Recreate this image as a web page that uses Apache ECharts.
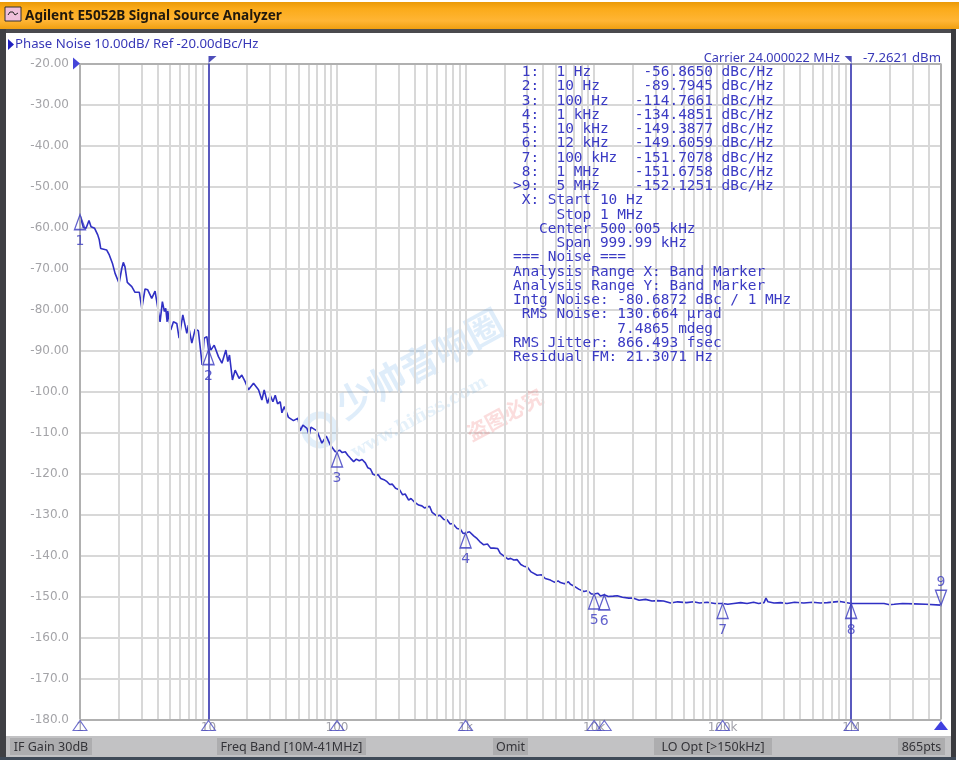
<!DOCTYPE html>
<html><head><meta charset="utf-8">
<style>html,body{margin:0;padding:0;background:#fff}#c{width:960px;height:761px}</style>
<script src="https://cdn.jsdelivr.net/npm/echarts@6/dist/echarts.min.js"></script></head>
<body><div id="c"></div>
<script>
// log10(frequency in Hz) of the traced points
const logFreq = [0,.026,.047,.070,.086,.114,.138,.150,.161,.174,.208,.228,.252,.273,.304,.325,.337,.350,.368,.403,.428,.462,.467,.481,.493,.506,.527,.558,.584,.610,.623,.641,.657,.667,.678,.683,.706,.727,.753,.771,.800,.831,.843,.870,.896,.921,.942,.950,.966,.987,1.0,1.004,1.018,1.044,1.077,1.104,1.135,1.150,1.163,1.186,1.207,1.238,1.259,1.285,1.311,1.350,1.389,1.415,1.433,1.459,1.480,1.501,1.519,1.537,1.558,1.571,1.589,1.622,1.661,1.696,1.713,1.734,1.766,1.783,1.797,1.843,1.882,1.916,1.947,1.986,
2.0,2.02,2.04,2.064,2.085,2.105,2.129,2.15,2.173,2.195,2.22,2.24,2.26,2.28,2.298,2.32,2.34,2.365,2.389,2.41,2.43,2.455,2.47,2.487,2.51,2.53,2.557,2.575,2.6,2.635,2.66,2.68,2.70,2.72,2.74,2.778,2.80,2.83,2.856,2.88,2.90,2.934,2.96,2.98,
3.0,3.03,3.063,3.09,3.11,3.141,3.17,3.195,3.219,3.25,3.27,3.297,3.33,3.35,3.375,3.40,3.43,3.453,3.48,3.51,3.557,3.59,3.62,3.66,3.69,3.72,3.738,3.77,3.80,3.816,3.85,3.88,3.92,3.95,3.98,
4.0,4.03,4.05,4.079,4.11,4.15,4.18,4.22,4.27,4.307,4.35,4.4,4.45,4.491,4.54,4.595,4.65,4.72,4.774,4.82,4.88,4.94,
5.0,5.04,5.086,5.14,5.19,5.241,5.28,5.322,5.337,5.353,5.4,5.452,5.5,5.56,5.631,5.7,5.76,5.815,5.914,
6.0,6.1,6.256,6.3,6.334,6.4,6.49,6.58,6.699];
// phase noise, dBc/Hz
const noise = [-57,-60,-60.2,-58.3,-59.8,-60.2,-61.8,-63,-65.1,-64.7,-65.5,-66.7,-68.7,-71.2,-73.6,-70,-68.5,-69.6,-73.4,-74.4,-75.8,-75.8,-75.5,-79.7,-79.7,-75,-75.2,-77.3,-75.5,-80.5,-83,-78.1,-80.5,-79.7,-83,-80.4,-85,-83,-83.4,-87,-81.3,-85.8,-83.8,-88.2,-84.8,-85.2,-91.1,-93.5,-87,-86.6,-89.8,-87.9,-89.9,-88.7,-91.5,-93.1,-89.9,-92.7,-91.1,-97.2,-94.8,-96.8,-96,-97.6,-99.6,-98,-99.6,-102.1,-99.6,-102.9,-100.9,-102.5,-100.9,-103,-102.5,-105.2,-103.7,-106.3,-107.1,-106.5,-109.6,-108.2,-109,-110.6,-108.7,-109.6,-112.6,-110.9,-113,-114.7,
-114.8,-114.3,-114.9,-114.7,-115.6,-116.3,-117.1,-116.5,-116.9,-116.6,-117.4,-118.6,-118.9,-120.2,-120.4,-120.3,-121.2,-121.5,-122,-122.7,-122.6,-123.6,-123.2,-124,-125.2,-125,-126.5,-126.1,-126.9,-127.7,-127.9,-128.4,-128.2,-128,-129.5,-130.4,-130.2,-131.2,-131.3,-132.3,-132.2,-133.4,-133.6,-134.6,
-134.5,-134.2,-135.2,-135.9,-136.6,-137.4,-137.2,-138.2,-138.2,-138.3,-139.5,-140.1,-140.9,-140.7,-141.1,-141,-142.2,-142.6,-142.8,-144,-144.8,-144.7,-145.6,-146,-146.5,-146.2,-146.6,-146.9,-146.4,-147,-147.6,-148.2,-148.8,-148.6,-149.4,
-149.4,-149.2,-149.9,-149.6,-150,-149.9,-149.8,-150.2,-150.4,-150.4,-150.9,-150.7,-151.1,-151,-151.1,-151.6,-151.3,-151.5,-151.3,-151.6,-151.4,-151.7,
-151.7,-151.9,-151.7,-151.5,-151.7,-151.4,-151.7,-151.5,-150.4,-151.3,-151.6,-151.5,-151.7,-151.4,-151.6,-151.4,-151.6,-151.5,-151.2,
-151.7,-151.7,-151.7,-152,-151.9,-151.7,-151.8,-151.9,-152.1];
const markerFreq = [1,10,100,1000,10000,12000,100000,1000000,5000000];
const markerVal = [-56.865,-89.7945,-114.7661,-134.4851,-149.3877,-149.6059,-151.7078,-151.6758,-152.1251];
const markerId = ['1','2','3','4','5','6','7','8','9'];
const gridFreq = [2,3,4,5,6,7,8,9,10,20,30,40,50,60,70,80,90,100,200,300,400,500,600,700,800,900,1000,2000,3000,4000,5000,6000,7000,8000,9000,10000,20000,30000,40000,50000,60000,70000,80000,90000,100000,200000,300000,400000,500000,600000,700000,800000,900000,1000000,2000000,3000000,4000000];
const bandLines = [10,1000000];
const xTicks = {1:'1',10:'10',100:'100',1000:'1k',10000:'10k',100000:'100k',1000000:'1M'};
const titleText = 'Agilent E5052B Signal Source Analyzer';
const headLeft = 'Phase Noise 10.00dB/ Ref -20.00dBc/Hz';
const headCarrier = 'Carrier 24.000022 MHz';
const headPower = '-7.2621 dBm';
const tableLines = [
' 1:  1 Hz      -56.8650 dBc/Hz',
' 2:  10 Hz     -89.7945 dBc/Hz',
' 3:  100 Hz   -114.7661 dBc/Hz',
' 4:  1 kHz    -134.4851 dBc/Hz',
' 5:  10 kHz   -149.3877 dBc/Hz',
' 6:  12 kHz   -149.6059 dBc/Hz',
' 7:  100 kHz  -151.7078 dBc/Hz',
' 8:  1 MHz    -151.6758 dBc/Hz',
'>9:  5 MHz    -152.1251 dBc/Hz',
' X: Start 10 Hz',
'     Stop 1 MHz',
'   Center 500.005 kHz',
'     Span 999.99 kHz',
'=== Noise ===',
'Analysis Range X: Band Marker',
'Analysis Range Y: Band Marker',
'Intg Noise: -80.6872 dBc / 1 MHz',
' RMS Noise: 130.664 \u00b5rad',
'            7.4865 mdeg',
'RMS Jitter: 866.493 fsec',
'Residual FM: 21.3071 Hz'];
const statusItems = [['IF Gain 30dB',10,82],['Freq Band [10M-41MHz]',217,149],['Omit',493,35],['LO Opt [>150kHz]',654,118],['865pts',898,47]];

const BLUE='#3838b8', UI='Noto Sans, DejaVu Sans, sans-serif';
const g=[];
const rect=(x,y,w,h,fill,z,extra)=>g.push(Object.assign({type:'rect',shape:{x,y,width:w,height:h},style:{fill},z:z,silent:true},extra||{}));
const text=(x,y,t,fill,font,z,extra)=>g.push({type:'text',x,y,z:z,silent:true,style:Object.assign({text:t,fill,font,textVerticalAlign:'middle'},extra||{})});
rect(0,0,960,761,'#ffffff',-20);
rect(0,2,959,27,{type:'linear',x:0,y:0,x2:0,y2:1,colorStops:[{offset:0,color:'#ea9a08'},{offset:.25,color:'#fbab1a'},{offset:.7,color:'#ffb535'},{offset:1,color:'#f09f10'}]},-19);
rect(0,29,956,4,'#4a4a4e',-19);
rect(0,29,6,731,'#3f4044',-19);
rect(951,29,5,731,'#3a3b3f',-19);
rect(6,736,945,22,'#c2c2c4',-19);
rect(0,757,956,3,'#3f4a58',-19);
statusItems.forEach(([t,x,w])=>{rect(x,738,w,17,'#adadaf',-18);text(x+w/2,747,t,'#333338','12.5px '+UI,-17,{textAlign:'center'});});
rect(5,7,16,14,'#f0c0dc',-17,{style:{fill:'#f0c0dc',stroke:'#333',lineWidth:1}});
g.push({type:'polyline',silent:true,z:-16,shape:{points:[[8,15],[10,12],[13,12],[15,15],[18,13]]},style:{stroke:'#222',lineWidth:1,fill:null}});
text(25,16,titleText,'#20180c','bold 13.6px '+UI,-17);
g.push({type:'polygon',silent:true,z:3,shape:{points:[[8,39],[14,44.5],[8,50]]},style:{fill:'#2020c0'}});
text(15,44.5,headLeft,BLUE,'13.2px '+UI,3);
text(840,58,headCarrier,BLUE,'12.7px '+UI,3,{textAlign:'right'});
text(941,58,headPower,BLUE,'13.2px '+UI,3,{textAlign:'right'});
tableLines.forEach((l,i)=>text(513,72.4+i*14.25,l,'#3a3ac4','14.45px "DejaVu Sans Mono", monospace',6));
// faint watermark
g.push({type:'circle',silent:true,z:1,shape:{cx:320,cy:430,r:15},style:{fill:null,stroke:'rgba(110,175,230,.2)',lineWidth:7}});
[['\u5c11\u5e05\u97f3\u54cd\u5708',347,424,'rgba(110,175,230,.22)','bold 37px "Noto Sans CJK SC"'],
 ['www.hifiss.com',357,462,'rgba(110,175,230,.18)','bold 18px "DejaVu Serif"'],
 ['\u76d7\u56fe\u5fc5\u7a76',473,444,'rgba(235,100,100,.22)','bold 21px "Noto Sans CJK SC"']].forEach(([t,x,y,c,f])=>
  g.push({type:'text',x,y,rotation:.5,z:1,silent:true,style:{text:t,fill:c,font:f,textVerticalAlign:'bottom'}}));

const trace=logFreq.map((d,i)=>[Math.pow(10,d),noise[i]]);
const axisPts=markerFreq.map(f=>[f,-180]);
const hollow={color:'rgba(255,255,255,0)',borderColor:'#3a3ac0',borderWidth:1.4};
const option={
 animation:false,
 graphic:{elements:g},
 grid:{left:80,right:19,top:63.5,bottom:41.5,containLabel:false},
 xAxis:{type:'log',logBase:10,min:1,max:5000000,
   axisLine:{show:false},axisTick:{show:false},splitLine:{show:false},minorSplitLine:{show:false},
   axisLabel:{show:true,margin:2,showMaxLabel:false,color:'#a0a0a8',fontSize:12,fontFamily:'DejaVu Sans',formatter:v=>xTicks[Math.round(v)]||''}},
 yAxis:{type:'value',min:-180,max:-20,interval:10,
   axisLine:{show:false},axisTick:{show:false},
   splitLine:{lineStyle:{color:'#d8d8d8',width:2}},
   axisLabel:{margin:11,fontSize:12,fontFamily:'DejaVu Sans',color:v=>v===-20?'#4a4ac0':'#a4a4a8',formatter:v=>v>-100?v.toFixed(2):v.toFixed(1)}},
 series:[
  {type:'line',z:1,silent:true,data:[],symbol:'none',
   markLine:{silent:true,symbol:'none',animation:false,label:{show:false},lineStyle:{type:'solid',color:'#d8d8d8',width:2},
     data:gridFreq.map(f=>({xAxis:f}))}},
  {type:'line',z:2,silent:true,data:[],symbol:'none',
   markLine:{silent:true,symbol:'none',animation:false,label:{show:false},lineStyle:{type:'solid',color:'#b0b0b0',width:2},
     data:[{xAxis:1},{xAxis:5000000},{yAxis:-20},{yAxis:-180}]}},
  {type:'line',z:3,silent:true,data:[],symbol:'none',
   markLine:{silent:true,symbol:'none',animation:false,label:{show:false},lineStyle:{type:'solid',color:'#3a3ab8',width:1.6},
     data:bandLines.map(f=>({xAxis:f}))}},
  {type:'line',z:4,silent:true,data:trace,symbol:'none',lineStyle:{color:'#3030c4',width:1.6},clip:false},
  {type:'scatter',z:5,silent:true,clip:false,symbol:'triangle',symbolSize:[11,15],symbolOffset:[0,7.5],
   itemStyle:hollow,
   label:{show:true,position:'bottom',distance:4,color:'#3a3ac0',fontSize:14,fontFamily:'DejaVu Sans',formatter:p=>markerId[p.dataIndex]},
   data:markerFreq.slice(0,8).map((f,i)=>[f,markerVal[i]])},
  {type:'scatter',z:5,silent:true,clip:false,symbol:'triangle',symbolRotate:180,symbolSize:[11,15],symbolOffset:[0,-7.5],
   itemStyle:hollow,
   label:{show:true,position:'top',distance:0,color:'#3a3ac0',fontSize:14,fontFamily:'DejaVu Sans',formatter:()=>markerId[8]},
   data:[[markerFreq[8],markerVal[8]]]},
  {type:'scatter',z:5,silent:true,clip:false,symbol:'triangle',symbolSize:[14,10],symbolOffset:[0,6],
   itemStyle:{color:'rgba(255,255,255,0)',borderColor:'#4a4ac0',borderWidth:1},
   data:axisPts.slice(0,8)},
  {type:'scatter',z:5,silent:true,clip:false,symbol:'triangle',symbolSize:[14,9],symbolOffset:[0,6],
   itemStyle:{color:'#1010d8'},data:axisPts.slice(8)},
  {type:'scatter',z:5,silent:true,clip:false,symbol:'path://M0 0L8 0L0 7Z',symbolSize:[8,7],symbolOffset:[4,-4],
   itemStyle:{color:'#2020a8'},data:[[bandLines[0],-20]]},
  {type:'scatter',z:5,silent:true,clip:false,symbol:'path://M0 0L8 0L8 7Z',symbolSize:[7,7],symbolOffset:[-3,-4],
   itemStyle:{color:'#2020a8'},data:[[bandLines[1],-20]]},
  {type:'scatter',z:5,silent:true,clip:false,symbol:'triangle',symbolRotate:-90,symbolSize:[12,7],symbolOffset:[-3.5,0],
   itemStyle:{color:'#1818d0'},data:[[1,-20]]}
 ]
};
echarts.init(document.getElementById('c'),null,{renderer:'canvas'}).setOption(option);
</script></body></html>
